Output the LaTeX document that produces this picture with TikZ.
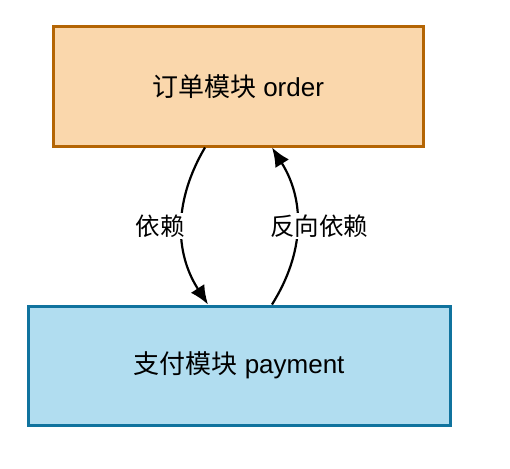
\documentclass[tikz,border=0pt]{standalone}
\usepackage{fontspec}
\setmainfont{Liberation Sans}
\newfontfamily\cjk{Noto Sans CJK SC}
\usetikzlibrary{arrows.meta}

\definecolor{orderfill}{HTML}{FAD7AC}
\definecolor{orderline}{HTML}{B46504}
\definecolor{payfill}{HTML}{B1DDF0}
\definecolor{payline}{HTML}{10739E}

\tikzset {
    module/.style={rectangle, line width=3pt, inner sep=0pt, font=\fontsize{26}{30}\selectfont},
    dep/.style={line width=2.2pt, -{Latex[length=19pt, width=16pt]}},
    lbl/.style={rectangle, fill=white, inner sep=2pt, font=\fontsize{24.5}{28}\selectfont},
}

\begin{document}
\begin{tikzpicture}[x=1pt, y=-1pt]
    \useasboundingbox (0, 0) rectangle (510, 468);
    \node at (238, 86.5) [module, draw=orderline, fill=orderfill,
        minimum width=370, minimum height=119] (order) {{\cjk 订单模块} order};
    \node at (239, 365.5) [module, draw=payline, fill=payfill,
        minimum width=422, minimum height=119] (payment) {{\cjk 支付模块} payment};
    \draw [dep] ([xshift=-33pt]order.south)
        .. controls (174, 200) and (174, 252) .. ([xshift=-31pt]payment.north);
    \draw [dep] ([xshift=33pt]payment.north)
        .. controls (305, 252) and (305, 200) .. ([xshift=34pt]order.south);
    \node at (160, 226) [lbl] (fwd) {\cjk 依赖};
    \node at (319, 226) [lbl] (back) {\cjk 反向依赖};
\end{tikzpicture}
\end{document}
